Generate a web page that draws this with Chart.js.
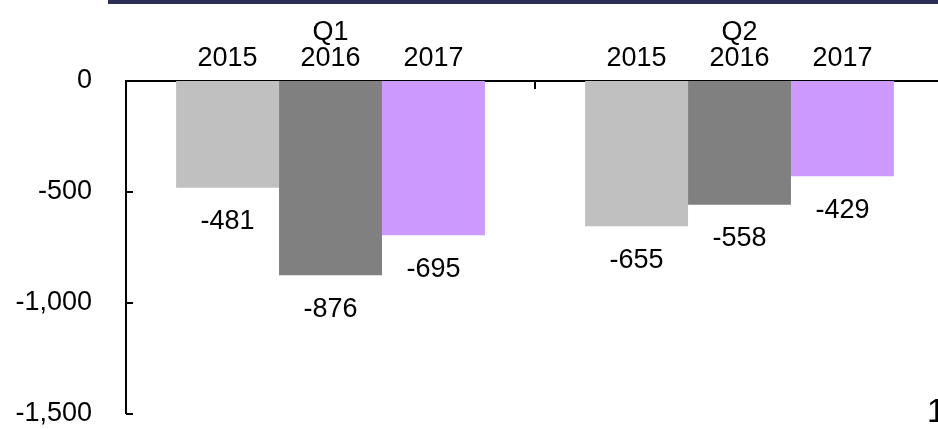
<!DOCTYPE html>
<html>
<head>
<meta charset="utf-8">
<script src="https://cdn.jsdelivr.net/npm/chart.js@4/dist/chart.umd.min.js"></script>
<style>
  html, body { margin: 0; padding: 0; background: #fff; overflow: hidden; width: 938px; height: 429px; }
  #c { position: absolute; left: 0; top: 0; }
</style>
</head>
<body>
<canvas id="c" width="960" height="464"></canvas>
<script>
const categories = ['Q1', 'Q2'];
const years = ['2015', '2016', '2017'];
const values2015 = [-481, -655];
const values2016 = [-876, -558];
const values2017 = [-695, -429];
const yTicks = [0, -500, -1000, -1500];
const pageNumber = '1';

const FONT = "'Liberation Sans', Arial, sans-serif";
const fmt = v => Number(v).toLocaleString('en-US');

const decor = {
  id: 'decor',
  beforeDraw(chart) {
    const ctx = chart.ctx;
    ctx.save();
    ctx.fillStyle = '#2c2d55';
    ctx.fillRect(108, 0, chart.width - 108, 4);
    ctx.restore();
  },
  afterDraw(chart) {
    const ctx = chart.ctx;
    const x = chart.scales.x, y = chart.scales.y;
    const area = chart.chartArea;
    ctx.save();
    ctx.strokeStyle = '#000';
    ctx.lineWidth = 2;
    // inward y ticks
    yTicks.forEach(v => {
      const py = Math.round(y.getPixelForValue(v));
      ctx.beginPath();
      ctx.moveTo(area.left, py);
      ctx.lineTo(area.left + 7, py);
      ctx.stroke();
    });
    // inward category separator ticks
    for (let i = 0; i < categories.length - 1; i++) {
      const px = Math.round((x.getPixelForValue(i) + x.getPixelForValue(i + 1)) / 2);
      ctx.beginPath();
      ctx.moveTo(px, area.top);
      ctx.lineTo(px, area.top + 8);
      ctx.stroke();
    }
    // labels
    ctx.fillStyle = '#000';
    ctx.font = '27px ' + FONT;
    ctx.textAlign = 'center';
    ctx.textBaseline = 'middle';
    categories.forEach((c, i) => {
      ctx.fillText(c, x.getPixelForValue(i), 33);
    });
    chart.data.datasets.forEach((ds, di) => {
      const meta = chart.getDatasetMeta(di);
      meta.data.forEach((el, i) => {
        ctx.fillText(years[di], el.x, 59);
        ctx.fillText(fmt(ds.data[i]), el.x, el.y + 34);
      });
    });
    // page number
    ctx.font = '33px ' + FONT;
    ctx.textAlign = 'left';
    ctx.textBaseline = 'alphabetic';
    ctx.fillText(pageNumber, 927, 422);
    ctx.restore();
  }
};

new Chart(document.getElementById('c'), {
  type: 'bar',
  data: {
    labels: categories,
    datasets: [
      { label: years[0], data: values2015, backgroundColor: '#c0c0c0' },
      { label: years[1], data: values2016, backgroundColor: '#808080' },
      { label: years[2], data: values2017, backgroundColor: '#cc99ff' }
    ]
  },
  options: {
    responsive: false,
    animation: false,
    layout: { padding: { left: 0, right: 16, top: 0, bottom: 15 } },
    categoryPercentage: 0.755,
    barPercentage: 1,
    plugins: { legend: { display: false }, tooltip: { enabled: false } },
    scales: {
      x: {
        position: 'top',
        grid: { display: false, drawTicks: false },
        border: { display: true, color: '#000', width: 2 },
        ticks: { display: false },
        afterFit(s) { s.height = 81; }
      },
      y: {
        min: -1500, max: 0,
        afterBuildTicks(s) { s.ticks = yTicks.map(v => ({ value: v })); },
        grid: { display: false, drawTicks: false },
        border: { display: true, color: '#000', width: 2 },
        ticks: {
          color: '#000',
          font: { family: FONT, size: 27 },
          padding: 34,
          callback: v => fmt(v)
        },
        afterFit(s) { s.width = 126; }
      }
    }
  },
  plugins: [decor]
});
</script>
</body>
</html>
